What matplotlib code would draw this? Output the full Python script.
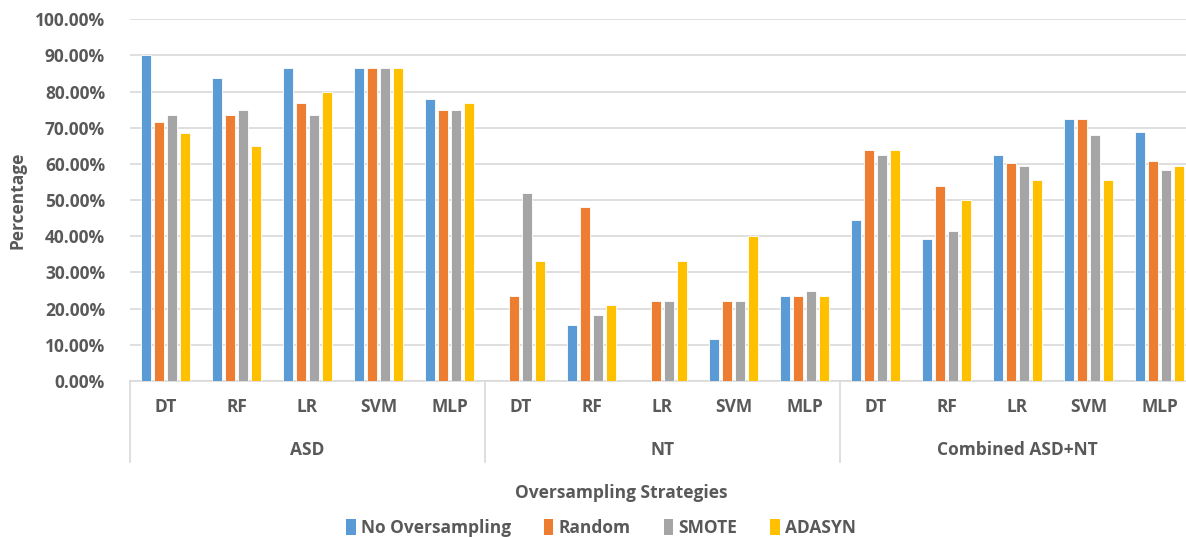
import numpy as np
import matplotlib
matplotlib.use("Agg")
import matplotlib.pyplot as plt
from matplotlib.ticker import PercentFormatter
from matplotlib.patches import Patch

plt.rcParams['font.family'] = ['Open Sans', 'DejaVu Sans']
plt.rcParams['font.weight'] = 'bold'
plt.rcParams['axes.labelweight'] = 'bold'

groups = ["ASD", "NT", "Combined ASD+NT"]
models = ["DT", "RF", "LR", "SVM", "MLP"]
series = ["No Oversampling", "Random", "SMOTE", "ADASYN"]
colors = ["#5B9BD5", "#ED7D31", "#A5A5A5", "#FFC000"]

# values in percent, order: ASD (DT..MLP), NT (DT..MLP), Combined (DT..MLP)
no_oversampling = [90.0, 83.8, 86.5, 86.5, 78.0,
                   0.0, 15.4, 0.0, 11.7, 23.5,
                   44.5, 39.3, 62.5, 72.4, 68.9]
random_os = [71.7, 73.5, 76.8, 86.5, 75.0,
             23.5, 48.0, 22.1, 22.1, 23.5,
             63.9, 53.8, 60.4, 72.4, 60.8]
smote = [73.5, 75.0, 73.5, 86.5, 75.0,
         51.9, 18.2, 22.1, 22.1, 25.0,
         62.6, 41.5, 59.4, 67.9, 58.2]
adasyn = [68.5, 64.9, 79.9, 86.5, 76.8,
          33.3, 21.1, 33.3, 40.0, 23.5,
          64.0, 50.0, 55.6, 55.6, 59.5]

data = [no_oversampling, random_os, smote, adasyn]
txt = "#595959"
fs = 12.5

fig = plt.figure(figsize=(11.86, 5.37), dpi=100)
ax = fig.add_axes([130/1186, 1-381/537, 1065/1186, (381-19.3)/537])

x = np.arange(len(groups) * len(models))
pitch = 0.182
for i, vals in enumerate(data):
    ax.bar(x + (i - 1.5) * pitch, vals, width=pitch*0.8, color=colors[i],
           edgecolor="white", linewidth=0.6, zorder=3)

ax.set_xlim(-0.5, len(x) - 0.5)
ax.set_ylim(0, 100)
ax.set_yticks(np.arange(0, 101, 10))
ax.yaxis.set_major_formatter(PercentFormatter(decimals=2))
ax.grid(axis="y", color="#D9D9D9", linewidth=1.2, zorder=0)
for s in ["top", "right", "left"]:
    ax.spines[s].set_visible(False)
ax.spines["bottom"].set_color("#D9D9D9")
ax.spines["bottom"].set_linewidth(1.2)
ax.tick_params(axis="y", length=0, labelsize=fs, labelcolor=txt, pad=18)
ax.tick_params(axis="x", length=0, labelsize=fs, labelcolor=txt, pad=12)
ax.set_xticks(x)
ax.set_xticklabels(models * len(groups))
for lab in ax.get_xticklabels() + ax.get_yticklabels():
    lab.set_fontweight("bold")
ax.set_ylabel("Percentage", fontsize=fs, color=txt, fontweight="bold")
ax.yaxis.set_label_coords(-0.097, 0.5)

trans = ax.get_xaxis_transform()
for k in range(len(groups) + 1):
    ax.plot([k * 5 - 0.5] * 2, [0, -0.225], transform=trans, color="#D9D9D9",
            linewidth=1.2, clip_on=False)
for k, g in enumerate(groups):
    ax.text(k * 5 + 2, -0.19, g, transform=trans, ha="center", va="center",
            fontsize=fs, color=txt, fontweight="bold")

fig.text(621/1186, 1-493/537, "Oversampling Strategies", ha="center",
         va="center", fontsize=fs, color=txt, fontweight="bold")

handles = [Patch(facecolor=c, label=s) for c, s in zip(colors, series)]
leg = fig.legend(handles=handles, loc="center", bbox_to_anchor=(601/1186, 1-528/537),
                 ncol=4, frameon=False, handlelength=0.55,
                 handleheight=1.0, handletextpad=0.3, columnspacing=1.9,
                 prop={"weight": "bold", "size": fs})
for t in leg.get_texts():
    t.set_color(txt)

fig.savefig("out.png", dpi=100)
